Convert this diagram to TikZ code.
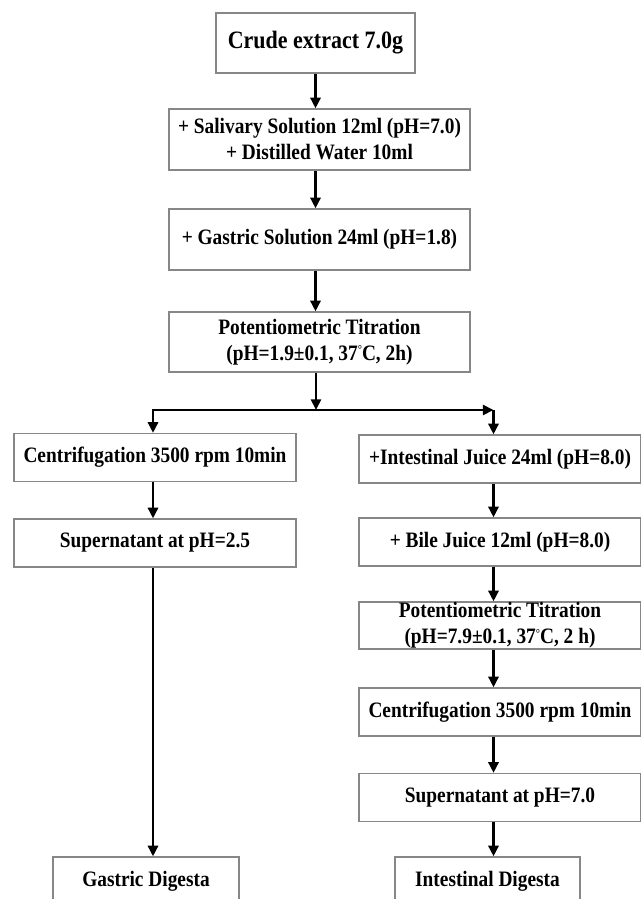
\documentclass[tikz,border=0pt]{standalone}
\usepackage{fontspec}
\setmainfont{Liberation Serif}[FakeStretch=0.88]
\usetikzlibrary{arrows.meta}
\definecolor{boxgray}{RGB}{135,135,135}
\tikzset{every picture/.style={line width=0.75pt}}
\newcommand{\degsign}{\raisebox{0.3em}{\fontsize{9}{9}\selectfont °}}

\begin{document}
\begin{tikzpicture}[x=0.75pt,y=0.75pt,yscale=-1,xscale=1,
	stage/.style={draw=boxgray, line width=0.9pt, inner sep=0pt, align=center, minimum height=36pt, font=\fontsize{16.5}{19.5}\selectfont\bfseries},
	flow/.style={line width=2pt, -{Triangle[length=8pt,width=7.5pt]}}]
	\useasboundingbox (0,0) rectangle (640,899);
	
	%Stomach part, one column
	\node [stage, minimum width=149.25pt, minimum height=45pt, font=\fontsize{18.75}{22}\selectfont\bfseries] (crude) at (315.5,43) {Crude extract 7.0g};
	\node [stage, minimum width=225.75pt, minimum height=45.75pt] (saliv) at (319.5,139.5) {+ Salivary Solution 12ml (pH=7.0)\\+ Distilled Water 10ml};
	\node [stage, minimum width=225.75pt, minimum height=45.75pt] (gastric) at (319.5,239.5) {+ Gastric Solution 24ml (pH=1.8)};
	\node [stage, minimum width=225.75pt, minimum height=45pt] (titrA) at (319.5,342) {Potentiometric Titration\\(pH=1.9±0.1, 37\degsign C, 2h)};
	
	%Left column
	\node [stage, minimum width=211.5pt] (centA) at (155,457.5) {Centrifugation 3500 rpm 10min};
	\node [stage, minimum width=211.5pt] (supA) at (155,543) {Supernatant at pH=2.5};
	\node [stage, minimum width=139.5pt] (gdig) at (146,881) {Gastric Digesta};
	
	%Right column
	\node [stage, minimum width=211.5pt] (intj) at (500,459) {+Intestinal Juice 24ml (pH=8.0)};
	\node [stage, minimum width=211.5pt] (bile) at (500,542) {+ Bile Juice 12ml (pH=8.0)};
	\node [stage, minimum width=211.5pt, minimum height=35.25pt] (titrB) at (500,625.5) {Potentiometric Titration\\(pH=7.9±0.1, 37\degsign C, 2 h)};
	\node [stage, minimum width=211.5pt] (centB) at (500,712) {Centrifugation 3500 rpm 10min};
	\node [stage, minimum width=211.5pt] (supB) at (500,797.5) {Supernatant at pH=7.0};
	\node [stage, minimum width=138.75pt] (idig) at (487.5,881) {Intestinal Digesta};
	
	\coordinate (split) at (316,410);
	\coordinate (lsplit) at (153,410);
	\coordinate (rsplit) at (493.5,410);
	
	%Arrows
	\draw [flow] (crude.south) -- (crude.south |- saliv.north);
	\draw [flow] (saliv.south -| crude.south) -- (gastric.north -| crude.south);
	\draw [flow] (gastric.south -| crude.south) -- (titrA.north -| crude.south);
	\draw [flow] (titrA.south -| split) -- (split);
	\draw [flow] (split) -- (lsplit) -- (lsplit |- centA.north);
	\draw [flow] (split) -- (rsplit);
	\draw [flow] (rsplit) -- (rsplit |- intj.north);
	
	\draw [flow] (centA.south -| lsplit) -- (supA.north -| lsplit);
	\draw [flow] (supA.south -| lsplit) -- (gdig.north -| lsplit);
	
	\draw [flow] (intj.south -| rsplit) -- (bile.north -| rsplit);
	\draw [flow] (bile.south -| rsplit) -- (titrB.north -| rsplit);
	\draw [flow] (titrB.south -| rsplit) -- (centB.north -| rsplit);
	\draw [flow] (centB.south -| rsplit) -- (supB.north -| rsplit);
	\draw [flow] (supB.south -| rsplit) -- (idig.north -| rsplit);
	
\end{tikzpicture}
\end{document}
